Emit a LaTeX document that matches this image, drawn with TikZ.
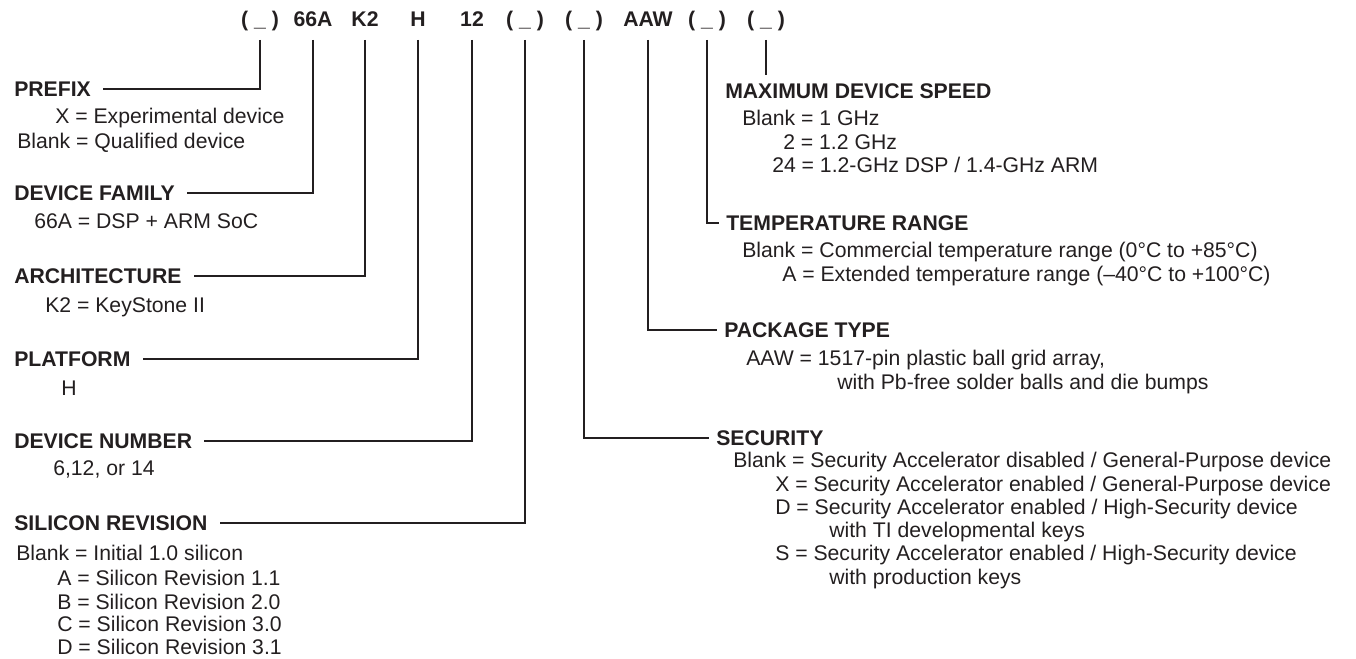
\documentclass[tikz,border=0pt]{standalone}
\usepackage{fontspec}
\setmainfont{Liberation Sans}
\definecolor{ink}{HTML}{231F20}
\tikzset{
  txt/.style={inner sep=0pt, text height=11.4pt, text depth=0pt, text=ink,
    font=\fontsize{15.9}{18}\selectfont},
  code/.style={txt, font=\fontsize{15.9}{18}\selectfont\bfseries, outer ysep=10pt},
  head/.style={txt, anchor=west, font=\fontsize{15.9}{18}\selectfont\bfseries},
  val/.style={txt, anchor=west},
  link/.style={draw=ink, line width=0.8pt}
}
\begin{document}
\begin{tikzpicture}[x=0.75pt,y=0.75pt]
        \useasboundingbox (0,0) rectangle (1356,-659);
        % draw the part number
        \foreach \n/\x/\t in {
            pre/260/{( \_ )},
            fam/313/66A,
            arch/365/K2,
            plat/418/H,
            num/472/12,
            rev/525/{( \_ )},
            sec/584/{( \_ )},
            pkg/648/AAW,
            temp/707/{( \_ )},
            speed/766/{( \_ )}}
                \node[code] (c\n) at (\x,-19) {\t};

        % draw the left fields
        \node[head] (hpre) at (14,-89) {PREFIX};
        \node[head] (hfam) at (14,-193) {DEVICE FAMILY};
        \node[head] (harch) at (14,-276) {ARCHITECTURE};
        \node[head] (hplat) at (14,-359) {PLATFORM};
        \node[head] (hnum) at (14,-441) {DEVICE NUMBER};
        \node[head] (hrev) at (14,-523) {SILICON REVISION};
        \foreach \x/\y/\t in {
            55/116/X = Experimental device,
            17/141/Blank = Qualified device,
            34/221/66A = DSP + ARM SoC,
            45/305/K2 = KeyStone II,
            61/388/H,
            53/468/{6,12, or 14},
            16/553/Blank = Initial 1.0 silicon,
            57/578/A = Silicon Revision 1.1,
            57/602/B = Silicon Revision 2.0,
            57/624/C = Silicon Revision 3.0,
            57/647/D = Silicon Revision 3.1}
                \node[val] (l\y) at (\x,-\y) {\t};

        % draw the right fields
        \node[head] (hspeed) at (725,-90.5) {MAXIMUM DEVICE SPEED};
        \node[head] (htemp) at (726,-223) {TEMPERATURE RANGE};
        \node[head] (hpkg) at (724,-330) {PACKAGE TYPE};
        \node[head] (hsec) at (716,-438) {SECURITY};
        \foreach \x/\y/\t in {
            742/118/Blank = 1 GHz,
            783/142/2 = 1.2 GHz,
            772/165/{24 = 1.2-GHz DSP / 1.4-GHz ARM},
            742/250/Blank = Commercial temperature range (0°C to +85°C),
            782/274/A = Extended temperature range (–40°C to +100°C),
            746/358/{AAW = 1517-pin plastic ball grid array,},
            837/382/with Pb-free solder balls and die bumps,
            733/460/{Blank = Security Accelerator disabled / General-Purpose device},
            775/484/{X = Security Accelerator enabled / General-Purpose device},
            775/507/{D = Security Accelerator enabled / High-Security device},
            829/530/with TI developmental keys,
            775/553/{S = Security Accelerator enabled / High-Security device},
            829/577/with production keys}
                \node[val] (r\y) at (\x,-\y) {\t};

        % draw the leaders
        \foreach \n in {pre,fam,arch,plat,num,rev}
            \draw[link] (c\n.south) |- ([xshift=9pt]h\n.east);
        \foreach \n in {sec,pkg,temp}
            \draw[link] (c\n.south) |- ([xshift=-5pt]h\n.west);
        \draw[link] (cspeed.south) -- ([yshift=6pt]hspeed.north -| cspeed.south);
\end{tikzpicture}
\end{document}
